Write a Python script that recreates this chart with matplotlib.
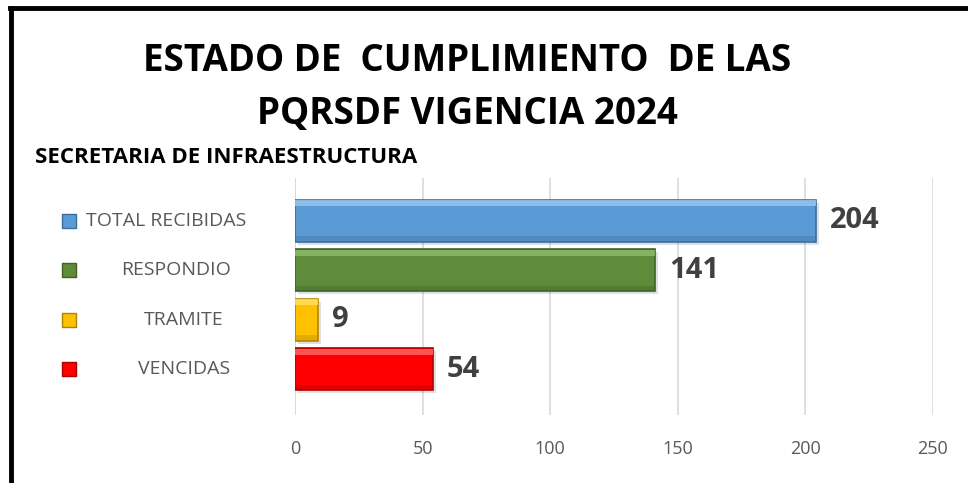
import matplotlib.pyplot as plt
import matplotlib.transforms as mtransforms
from matplotlib.lines import Line2D

# PQRSDF status for the Secretaria de Infraestructura, 2024
categorias = ['TOTAL RECIBIDAS', 'RESPONDIO', 'TRAMITE', 'VENCIDAS']
valores = [204, 141, 9, 54]
colores = ['#5B9BD5', '#5E8C3A', '#FFC000', '#FF0000']
bordes = ['#3A6E9E', '#3F6326', '#B08400', '#B00000']
brillos = ['#9CC8F0', '#8FBF6A', '#FFE066', '#FF6A6A']
ticks_x = [0, 50, 100, 150, 200, 250]

# horizontal centre of each category label (figure fraction)
pos_etiquetas = [0.172, 0.182, 0.190, 0.190]

plt.rcParams['font.family'] = ['Open Sans', 'DejaVu Sans']

fig = plt.figure(figsize=(9.68, 4.83), dpi=100)
ax = fig.add_axes([0.3048, 0.141, 0.659, 0.491])

y = list(range(len(categorias)))
alto = 0.85

# bars with a darker outline, light strip on top and darker strip below for a bevel look
ax.barh(y, valores, height=alto, color=colores, edgecolor=bordes, linewidth=1.2, zorder=3)
ax.barh([v - alto / 2 + 0.07 for v in y], valores, height=0.12, color=brillos,
        linewidth=0, alpha=0.8, zorder=4)
ax.barh([v + alto / 2 - 0.06 for v in y], valores, height=0.1, color=bordes,
        linewidth=0, alpha=0.35, zorder=4)
# soft drop shadow
ax.barh([v + 0.06 for v in y], valores, height=alto, left=1.2, color='#000000',
        alpha=0.12, linewidth=0, zorder=2)

for yi, v in zip(y, valores):
    ax.text(v + 5.5, yi, str(v), va='center', ha='left', fontsize=21,
            fontweight='bold', color='#404040', zorder=5)

ax.set_xlim(0, 250)
ax.set_ylim(3.92, -0.87)
ax.set_xticks(ticks_x)
ax.set_xticklabels([str(t) for t in ticks_x], fontsize=13, color='#595959')
ax.tick_params(axis='x', length=0, pad=18)
ax.set_yticks([])
ax.grid(axis='x', color='#D9D9D9', linewidth=1.2, zorder=0)
for s in ax.spines.values():
    s.set_visible(False)
ax.axvline(0, color='#D9D9D9', linewidth=1.2, zorder=1)

# category labels with small colored squares on the left
trans = mtransforms.blended_transform_factory(fig.transFigure, ax.transData)
for yi, cat, c, b, px in zip(y, categorias, colores, bordes, pos_etiquetas):
    ax.scatter([0.071], [yi], marker='s', s=95, color=c, edgecolors=b,
               linewidths=1, transform=trans, clip_on=False, zorder=5)
    ax.text(px, yi, cat, transform=trans, ha='center', va='center',
            fontsize=14, color='#595959')

fig.text(0.483, 0.873, 'ESTADO DE  CUMPLIMIENTO  DE LAS', ha='center', va='center',
         fontsize=26.5, fontweight='bold', color='#000000')
fig.text(0.483, 0.763, 'PQRSDF VIGENCIA 2024', ha='center', va='center',
         fontsize=26.5, fontweight='bold', color='#000000')
fig.text(0.036, 0.673, 'SECRETARIA DE INFRAESTRUCTURA', ha='left', va='center',
         fontsize=16, fontweight='bold', color='#000000')

# frame lines along the top and left edges
fig.add_artist(Line2D([0.0114, 0.0114], [0.0, 0.983], color='black', linewidth=3.5))
fig.add_artist(Line2D([0.0105, 1.0], [0.983, 0.983], color='black', linewidth=3.5))

fig.savefig('out.png', dpi=100)
